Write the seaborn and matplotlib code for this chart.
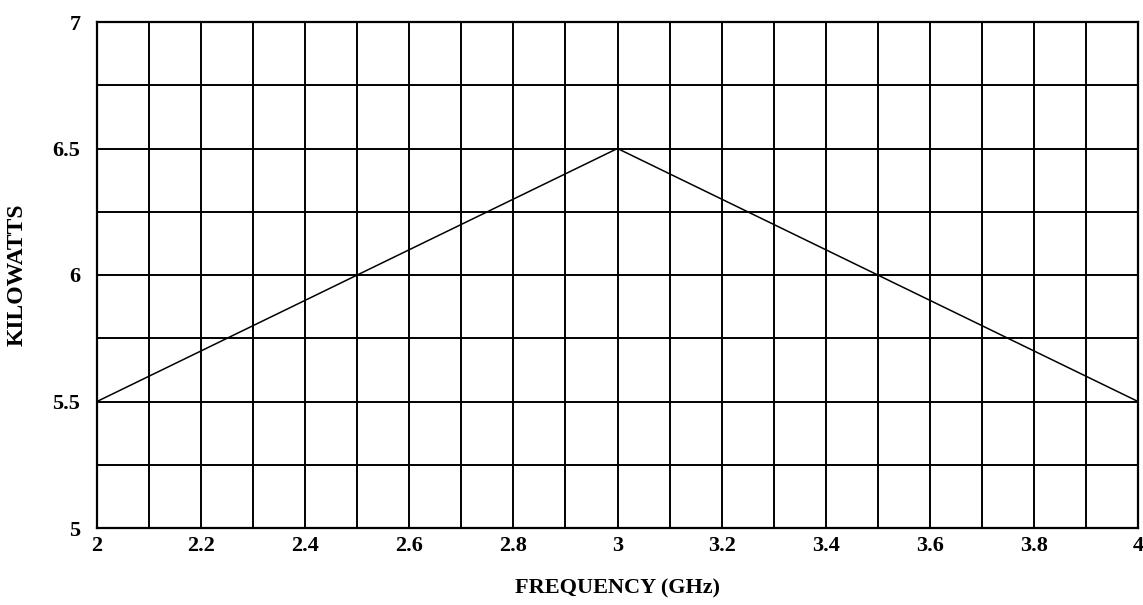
import matplotlib
matplotlib.use("Agg")
import matplotlib.pyplot as plt
import seaborn as sns
import numpy as np
import pandas as pd

# ---------------------------------------------------------------------------
# Data
# ---------------------------------------------------------------------------
freq_ghz = [2.0, 3.0, 4.0]
kilowatts = [5.5, 6.5, 5.5]

x_ticks = [2, 2.2, 2.4, 2.6, 2.8, 3, 3.2, 3.4, 3.6, 3.8, 4]
x_tick_labels = ["2", "2.2", "2.4", "2.6", "2.8", "3", "3.2", "3.4", "3.6", "3.8", "4"]
y_ticks = [5, 5.5, 6, 6.5, 7]
y_tick_labels = ["5", "5.5", "6", "6.5", "7"]

df = pd.DataFrame({"freq": freq_ghz, "kw": kilowatts})

sns.set_style("white")
plt.rcParams["font.family"] = ["Liberation Serif", "DejaVu Serif"]
plt.rcParams.update({"text.color": "black", "axes.labelcolor": "black",
                     "xtick.color": "black", "ytick.color": "black"})

fig = plt.figure(figsize=(11.43, 6.05), dpi=100)
ax = fig.add_axes([97 / 1143, 1 - 528 / 605, (1138 - 97) / 1143, (528 - 22) / 605])

sns.lineplot(data=df, x="freq", y="kw", ax=ax, color="black", linewidth=1.1)

ax.set_xlim(2, 4)
ax.set_ylim(5, 7)

# grid: every 0.1 GHz and every 0.25 kW
ax.set_xticks(np.round(np.arange(2, 4.01, 0.1), 2), minor=True)
ax.set_yticks(np.arange(5, 7.01, 0.25), minor=True)
ax.grid(which="minor", color="black", linewidth=1.4)
ax.grid(which="major", color="black", linewidth=1.4)
ax.set_axisbelow(True)

ax.set_xticks(x_ticks)
ax.set_xticklabels(x_tick_labels, fontsize=16, fontweight="bold")
ax.set_yticks(y_ticks)
ax.set_yticklabels(y_tick_labels, fontsize=16, fontweight="bold")
ax.tick_params(which="both", length=0)
ax.tick_params(axis="x", pad=6)
ax.tick_params(axis="y", pad=12)

for s in ax.spines.values():
    s.set_color("black")
    s.set_linewidth(1.6)

ax.set_xlabel("FREQUENCY (GHz)", fontsize=16, fontweight="bold", labelpad=16)
ax.set_ylabel("KILOWATTS", fontsize=17, fontweight="bold", labelpad=18)

fig.savefig("out.png", dpi=100)
